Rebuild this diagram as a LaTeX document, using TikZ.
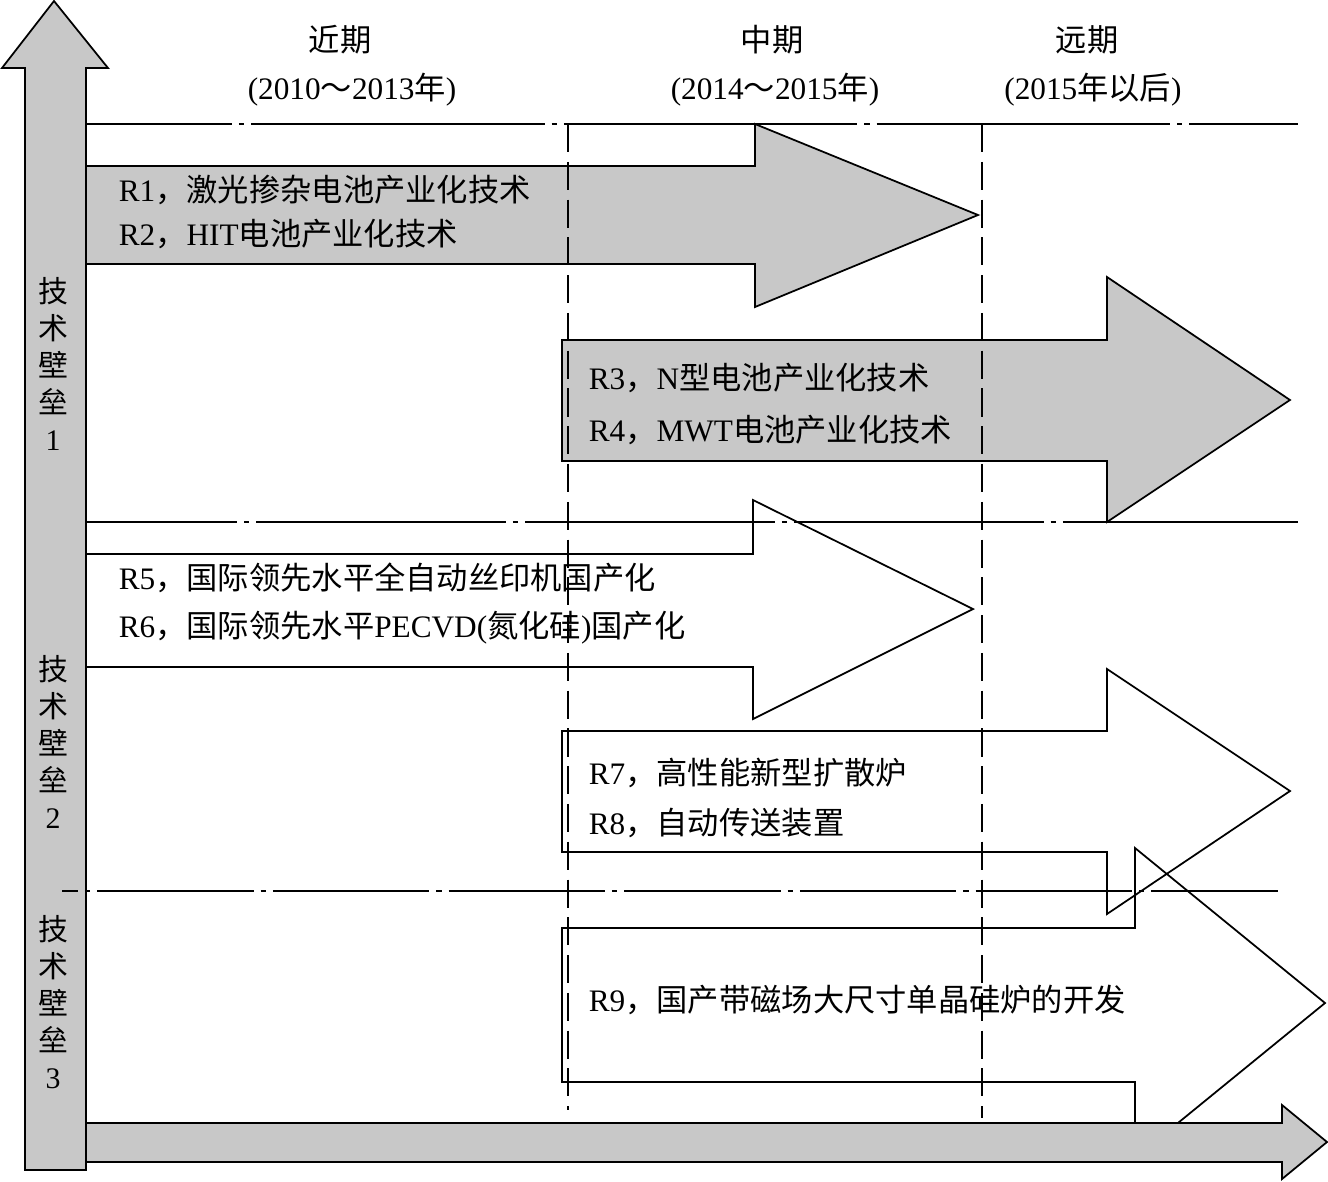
\documentclass[tikz,border=0pt]{standalone}
\usepackage{fontspec}
\setmainfont{Liberation Serif}
\newfontfamily\cjk{Noto Sans CJK SC}
\newcommand\zh[1]{{\cjk #1}}
\usepackage{xcolor}
\usetikzlibrary{positioning}
\definecolor{barfill}{RGB}{200,200,200}

\begin{document}
\begin{tikzpicture}[x=0.02cm, y=-0.02cm, line width=1pt,
  font=\fontsize{17.8}{21}\selectfont,
  graybar/.style={draw, fill=barfill},
  openbar/.style={draw},
  sepline/.style={dash pattern=on #1 off 4pt on 3pt off 4pt},
  timeline/.style={dash pattern=on 16pt off 5.5pt},
  rtext/.style={anchor=west, inner sep=0pt},
  barrier/.style={align=center, inner sep=0pt, font=\fontsize{17}{21}\selectfont}]
  \useasboundingbox (0,0) rectangle (1328,1181);
  % vertical axis
  \draw[graybar] (25,1170) -- (25,68) -- (2,68) -- (54,1) -- (108,68) -- (86,68) -- (86,1170) -- cycle;
  % roadmap bars
  \draw[graybar] (86,166) -- (755,166) -- (755,124) -- (978,215) -- (755,307) -- (755,264) -- (86,264) -- cycle;
  \draw[graybar] (562,340) -- (1107,340) -- (1107,277) -- (1290,400) -- (1107,522) -- (1107,461) -- (562,461) -- cycle;
  \draw[openbar] (86,554) -- (753,554) -- (753,500) -- (973,609) -- (753,719) -- (753,667) -- (86,667);
  \draw[openbar] (562,731) -- (1107,731) -- (1107,669) -- (1290,791) -- (1107,914) -- (1107,852) -- (562,852) -- cycle;
  \draw[openbar] (562,928) -- (1135,928) -- (1135,848) -- (1325,1003) -- (1135,1158) -- (1135,1082) -- (562,1082) -- cycle;
  % separators and periods
  \draw[sepline=167pt, dash phase=84pt] (86,124) -- (1298,124);
  \draw[sepline=142pt, dash phase=56pt] (86,522) -- (1298,522);
  \draw[sepline=89pt, dash phase=80pt] (62,891) -- (1278,891);
  \draw[timeline] (568,124) -- (568,1110);
  \draw[timeline] (982,124) -- (982,1118);
  % time axis
  \draw[graybar] (86,1123) -- (1282,1123) -- (1282,1105) -- (1327,1142) -- (1282,1179) -- (1282,1162) -- (86,1162) -- cycle;

  \node (near) at (340,40) {\zh{近期}};
  \node (nearyr) at (352,90) {(2010\zh{～}2013\zh{年})};
  \node (mid) at (772,40) {\zh{中期}};
  \node (midyr) at (775,90) {(2014\zh{～}2015\zh{年})};
  \node (far) at (1087,40) {\zh{远期}};
  \node (faryr) at (1093,90) {(2015\zh{年以后})};

  \node[barrier] (wall1) at (53,364) {\zh{技}\\\zh{术}\\\zh{壁}\\\zh{垒}\\1};
  \node[barrier] (wall2) at (53,742) {\zh{技}\\\zh{术}\\\zh{壁}\\\zh{垒}\\2};
  \node[barrier] (wall3) at (53,1002) {\zh{技}\\\zh{术}\\\zh{壁}\\\zh{垒}\\3};

  \node[rtext] (r1) at (118,190) {R1\zh{，激光掺杂电池产业化技术}};
  \node[rtext] (r2) at (118,234) {R2\zh{，}HIT\zh{电池产业化技术}};
  \node[rtext] (r3) at (588,378) {R3\zh{，}N\zh{型电池产业化技术}};
  \node[rtext] (r4) at (588,430) {R4\zh{，}MWT\zh{电池产业化技术}};
  \node[rtext] (r5) at (118,578) {R5\zh{，国际领先水平全自动丝印机国产化}};
  \node[rtext] (r6) at (118,628) {R6\zh{，国际领先水平}PECVD(\zh{氮化硅})\zh{国产化}};
  \node[rtext] (r7) at (588,773) {R7\zh{，高性能新型扩散炉}};
  \node[rtext] (r8) at (588,823) {R8\zh{，自动传送装置}};
  \node[rtext] (r9) at (588,1000) {R9\zh{，国产带磁场大尺寸单晶硅炉的开发}};
\end{tikzpicture}
\end{document}
